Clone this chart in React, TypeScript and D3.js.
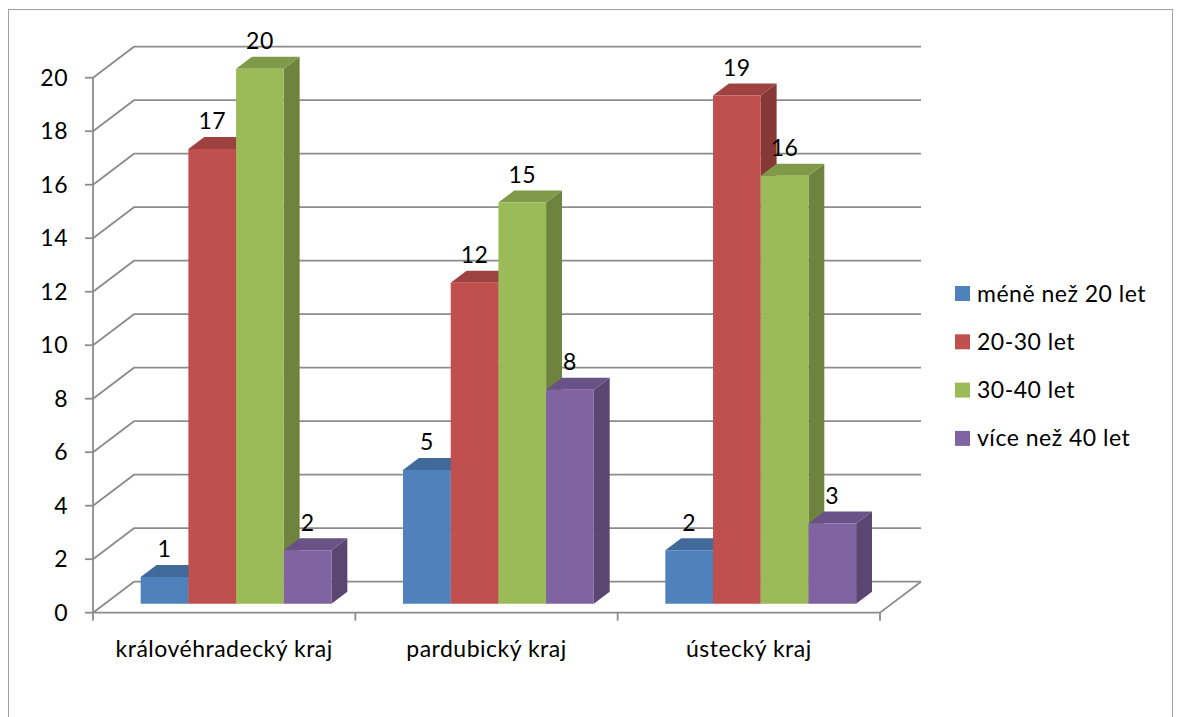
import React from "react";
import * as d3 from "d3";

const categories = ["královéhradecký kraj", "pardubický kraj", "ústecký kraj"];
const seriesNames = ["méně než 20 let", "20-30 let", "30-40 let", "více než 40 let"];
const lessThan20 = [1, 5, 2];
const from20to30 = [17, 12, 19];
const from30to40 = [20, 15, 16];
const moreThan40 = [2, 8, 3];
const yTicks = [0, 2, 4, 6, 8, 10, 12, 14, 16, 18, 20];

const seriesValues = [lessThan20, from20to30, from30to40, moreThan40];
const colors = ["#4F81BD", "#C0504D", "#9BBB59", "#8064A2"];

const W = 1177;
const H = 717;
const FONT = "Lato, Carlito, Calibri, sans-serif";
const FS = 23;
const LS = 0.5;

// 3D box geometry: offset of the back wall relative to the front plane
const DX = 41;
const DY = 31;
const BAR_FRONT = 9 / 31; // depth of the bar front faces
const BAR_DEPTH = 12 / 31; // depth of each bar

const y = d3.scaleLinear().domain([0, 20]).range([612.7, 77.7]);
const x = d3.scaleBand<string>().domain(categories).range([93, 880]).padding(0);
const inner = d3
  .scaleBand<string>()
  .domain(seriesNames)
  .range([0, x.bandwidth()])
  .paddingInner(0)
  .paddingOuter(0.75);

const proj = (xf: number, v: number, d: number): [number, number] => [
  xf + d * DX,
  y(v) - d * DY,
];

const pts = (p: [number, number][]) => p.map((q) => q.join(",")).join(" ");

export default function App() {
  const gridColor = "#8c8c8c";
  const xLeft = 93;
  const xRight = 880;

  const bars: JSX.Element[] = [];
  categories.forEach((cat, ci) => {
    seriesNames.forEach((s, si) => {
      const v = seriesValues[si][ci];
      const x0 = (x(cat) as number) + (inner(s) as number);
      const x1 = x0 + inner.bandwidth();
      const d0 = BAR_FRONT;
      const d1 = BAR_FRONT + BAR_DEPTH;
      const c = d3.color(colors[si]) as d3.RGBColor;
      const top = c.darker(0.55).formatHex();
      const side = c.darker(1.0).formatHex();
      const front = [proj(x0, v, d0), proj(x1, v, d0), proj(x1, 0, d0), proj(x0, 0, d0)];
      const topFace = [proj(x0, v, d0), proj(x0, v, d1), proj(x1, v, d1), proj(x1, v, d0)];
      const sideFace = [proj(x1, v, d0), proj(x1, v, d1), proj(x1, 0, d1), proj(x1, 0, d0)];
      const [lx] = proj((x0 + x1) / 2, v, d0);
      const [, ly] = proj(x0, v, d1);
      bars.push(
        <g key={`${ci}-${si}`}>
          <polygon points={pts(sideFace)} fill={side} />
          <polygon points={pts(topFace)} fill={top} />
          <polygon points={pts(front)} fill={colors[si]} />
          <text
            x={lx}
            y={ly - 7.5}
            textAnchor="middle"
            fontFamily={FONT}
            fontSize={FS}
            letterSpacing={LS}
            fill="#000"
          >
            {v}
          </text>
        </g>
      );
    });
  });

  return (
    <svg
      width={W}
      height={H}
      style={{ position: "absolute", left: 0, top: 0, background: "#fff" }}
    >
      <rect x={8.5} y={9.5} width={1164} height={720} fill="#fff" stroke="#a0a0a0" strokeWidth={1} />

      {/* back wall gridlines and left wall diagonals */}
      {yTicks.map((t) => {
        const a = proj(xLeft, t, 0);
        const b = proj(xLeft, t, 1);
        const c = proj(xRight, t, 1);
        return (
          <polyline
            key={t}
            points={pts([a, b, c])}
            fill="none"
            stroke={gridColor}
            strokeWidth={1.8}
          />
        );
      })}

      {/* floor outline */}
      <polyline
        points={pts([proj(xLeft, 0, 0), proj(xRight, 0, 0), proj(xRight, 0, 1)])}
        fill="none"
        stroke={gridColor}
        strokeWidth={1.8}
      />

      {/* vertical axis */}
      <line x1={xLeft} x2={xLeft} y1={y(20)} y2={y(0)} stroke={gridColor} strokeWidth={1.8} />
      {yTicks.map((t) => (
        <g key={`yt-${t}`}>
          <line x1={xLeft - 8} x2={xLeft} y1={y(t)} y2={y(t)} stroke={gridColor} strokeWidth={1.8} />
          <text
            x={68}
            y={y(t)}
            dy="0.35em"
            textAnchor="end"
            fontFamily={FONT}
            fontSize={FS}
            letterSpacing={LS}
            fill="#000"
          >
            {t}
          </text>
        </g>
      ))}

      {/* category ticks and labels */}
      {[...categories.map((c) => x(c) as number), xRight].map((px, i) => (
        <line key={`xt-${i}`} x1={px} x2={px} y1={y(0)} y2={y(0) + 8} stroke={gridColor} strokeWidth={1.8} />
      ))}
      {categories.map((c) => (
        <text
          key={c}
          x={(x(c) as number) + x.bandwidth() / 2}
          y={657}
          textAnchor="middle"
          fontFamily={FONT}
          fontSize={FS}
          letterSpacing={LS}
          fill="#000"
        >
          {c}
        </text>
      ))}

      {bars}

      {/* legend */}
      {seriesNames.map((s, i) => (
        <g key={s} transform={`translate(955, ${286 + i * 48.3})`}>
          <rect x={0} y={0} width={15} height={15} fill={colors[i]} />
          <text x={22} y={7.5} dy="0.35em" fontFamily={FONT} fontSize={FS} letterSpacing={LS} fill="#000">
            {s}
          </text>
        </g>
      ))}
    </svg>
  );
}
